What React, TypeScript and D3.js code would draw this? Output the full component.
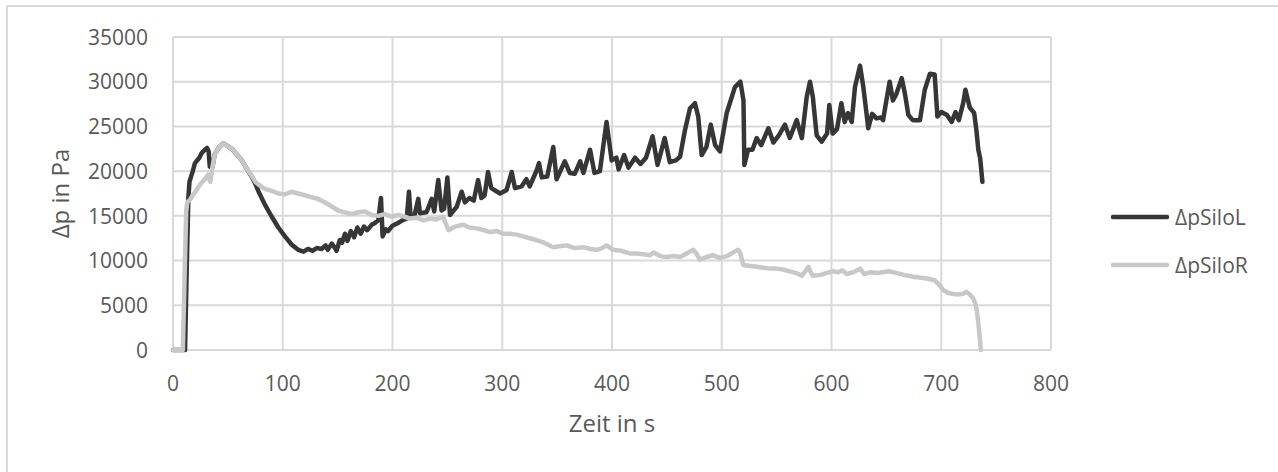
import React from 'react';
import * as d3 from 'd3';

// time in s, Δp in Pa
const siloL: [number, number][] = [
  [0, 0], [11, 0], [12.5, 9000], [14, 17000], [15, 18800], [18, 20000], [20, 20900], [24, 21500],
  [26, 22000], [29, 22400], [31, 22600], [32.5, 22200], [33.5, 20500], [36, 20500], [38, 21900],
  [42, 22700], [45.9, 23100], [50, 22800], [53.5, 22500], [58, 21900], [62.6, 21200], [67, 20300],
  [71.7, 19400], [75, 18600], [78, 17700], [84, 16200],
  [90, 14900], [96, 13700], [102, 12700], [108, 11800], [114, 11200], [119, 11000], [123, 11300],
  [127, 11100], [131, 11400], [135.5, 11300], [139, 11700], [141, 11200], [144.6, 11900], [147, 11500],
  [149, 11100], [152, 12300], [154, 12000], [156.7, 13000], [159, 12200], [162, 13300], [165, 12600],
  [168, 13700], [171, 13000], [174, 13800], [177, 13400], [181, 14000], [184, 14200], [187, 14500],
  [189.5, 17000], [191, 12700], [194, 13500], [196, 13300], [200, 13900], [205, 14200], [209, 14500],
  [213, 14700], [215, 17700], [216.5, 14900], [220, 15000], [223.5, 16900], [225, 15300], [231, 15400],
  [235.7, 16900], [238, 15500], [241.7, 19000], [244.7, 15600], [247, 15800], [250, 19300], [252.4, 15100],
  [258.5, 16000], [263, 17700], [266, 16500], [270, 17000], [274, 16700], [278, 19000], [281, 17000],
  [284, 17300], [287, 19900], [290, 18100], [298, 17500], [304, 17900], [308.6, 19900], [311.6, 18100],
  [317.7, 18300], [322, 19100], [325, 18300], [331.4, 20100], [333.5, 20900], [336, 19300], [341, 19400],
  [346.5, 22700], [349.5, 19100], [357, 21100], [361.5, 19800], [366, 19700], [371, 21100], [374, 19800],
  [380, 22400], [384, 19800], [389, 20000], [395, 25500], [399.7, 21200], [404, 21500], [406, 20200],
  [411, 21800], [415, 20400], [421, 21500], [426, 20800], [431, 21500], [437, 23900], [441.5, 20700],
  [448, 23700], [452.7, 21000], [458, 21200], [462, 21600], [466.5, 24600], [471, 27000], [475.6, 27600],
  [478.6, 26100], [481.7, 21800], [486, 22700], [490, 25200], [494, 22900], [498.4, 22200], [504.5, 26500],
  [512, 29400], [517, 30000], [519.8, 27900], [520.6, 20700], [524, 22400], [528, 22400], [531.8, 23700],
  [536, 22900], [542.5, 24800], [547, 23200], [552, 24000], [557.6, 25200], [562, 23700], [568.3, 25700],
  [573, 23700], [577.4, 28300], [580.4, 30000], [583, 28300], [586.5, 24000], [591, 23300], [596, 24200],
  [598, 27400], [601, 24200], [605, 24700], [609, 27600], [612, 25500], [615, 26500], [618.4, 25500],
  [621.4, 29400], [626, 31800], [629, 29400], [633.5, 24800], [637, 26400], [641, 25900], [645, 26000],
  [647, 25700], [650, 27900], [653, 30000], [656, 27900], [659, 28600], [664, 30400], [667, 28600],
  [670, 26300], [674, 25700], [680.6, 25700], [685, 29100], [689.7, 30900], [694, 30800], [696.5, 26100],
  [700, 26600], [705, 26300], [709.5, 25500], [713, 26600], [716, 25700], [720, 27600], [722, 29100],
  [726, 27100], [730, 26500], [732, 24600], [733.8, 22400], [735.5, 21400], [737.5, 18800],
];

const siloR: [number, number][] = [
  [0, 0], [9, 0], [10.5, 8000], [12, 15500], [13, 16500], [15.5, 16800], [18, 17300], [20.5, 17700],
  [23, 18200], [26, 18700], [29, 19100], [32, 19600], [34, 18800], [36, 20500], [38, 21900], [42, 22700],
  [45.9, 23100], [50, 22800], [53.5, 22500], [58, 21900], [62.6, 21200], [67, 20300], [71.7, 19500],
  [75, 18800], [79, 18400], [84, 18000], [90, 17800], [96, 17500], [102, 17400], [108, 17700], [114, 17500],
  [120, 17300], [126, 17100], [132, 16900], [138.5, 16500], [144, 16100], [150.6, 15600], [156, 15400],
  [163, 15200], [169, 15400], [175, 15500], [181, 15100], [187, 15000], [193, 15200], [199, 14900],
  [205, 15100], [211, 14900], [216, 14700], [222, 14800], [228.6, 14500], [234, 14700], [240, 14600],
  [246, 14900], [248, 14300], [251, 13400], [257, 13800], [264.5, 14000], [270, 13700], [276.7, 13600],
  [283, 13400], [289, 13200], [295, 13300], [301, 13000], [307, 13000], [313, 12900], [319, 12700],
  [325, 12500], [331, 12300], [338, 12000], [346.5, 11500], [352, 11600], [358.7, 11700], [366, 11400],
  [374, 11500], [380, 11300], [386, 11200], [391, 11400], [395, 11700], [401, 11200], [408, 11100],
  [416, 10800], [422, 10800], [428, 10700], [434.6, 10600], [438, 10900], [444, 10500], [449, 10400],
  [456, 10500], [462, 10400], [468, 10800], [474, 11200], [477, 10800], [480, 10100], [486, 10400],
  [492, 10600], [498, 10300], [505, 10500], [510, 10900], [515, 11200], [517, 10800], [519.6, 9500],
  [526, 9400], [532, 9300], [538, 9200], [544, 9100], [550, 9100], [556, 9000], [562, 8800], [568, 8600],
  [573, 8300], [576, 8800], [579, 9300], [581, 8700], [583, 8300], [590, 8400], [595, 8600], [601, 8800],
  [606, 8700], [610, 8900], [614, 8500], [620, 8700], [626, 9100], [630, 8500], [636, 8700], [642, 8600],
  [652, 8800], [660, 8600], [666, 8400], [674.5, 8200], [680, 8100], [686.6, 8000], [694, 7800],
  [698, 7300], [702, 6700], [706, 6400], [709.5, 6300], [715, 6200], [720, 6300], [723, 6500], [726, 6200],
  [729, 5800], [731, 5200], [732.3, 4500], [734, 2800], [735, 1500], [736, 0],
];

const xTicks = [0, 100, 200, 300, 400, 500, 600, 700, 800];
const yTicks = [0, 5000, 10000, 15000, 20000, 25000, 30000, 35000];

const series = [
  { name: 'ΔpSiloL', data: siloL, color: '#363636' },
  { name: 'ΔpSiloR', data: siloR, color: '#c8c8c8' },
];

const width = 1278;
const height = 472;
const margin = { top: 37, right: 227, bottom: 122, left: 173 };
const font = '"Open Sans", "DejaVu Sans", sans-serif';
const textColor = '#595959';
const gridColor = '#d9d9d9';

const App = () => {
  const x = d3.scaleLinear().domain([0, 800]).range([margin.left, width - margin.right]);
  const y = d3.scaleLinear().domain([0, 35000]).range([height - margin.bottom, margin.top]);

  const line = d3.line<[number, number]>()
    .x(d => x(d[0]))
    .y(d => y(d[1]));

  return (
    <svg width={width} height={height} style={{ position: 'absolute', left: 0, top: 0, background: '#fff' }}>
      {/* outer chart border */}
      <rect x={7} y={6} width={width + 10} height={height + 10} fill="#fff" stroke={gridColor} strokeWidth={2} />

      {/* grid */}
      {yTicks.map(t => (
        <line key={'gy' + t} x1={x(0)} x2={x(800)} y1={y(t)} y2={y(t)} stroke={gridColor} strokeWidth={2} />
      ))}
      {xTicks.map(t => (
        <line key={'gx' + t} x1={x(t)} x2={x(t)} y1={y(0)} y2={y(35000)} stroke={gridColor} strokeWidth={2} />
      ))}

      {/* tick labels */}
      {yTicks.map(t => (
        <text key={'ty' + t} x={148} y={y(t)} dy="0.37em" textAnchor="end"
          fontFamily={font} fontSize={21} fill={textColor}>{t}</text>
      ))}
      {xTicks.map(t => (
        <text key={'tx' + t} x={x(t)} y={391} textAnchor="middle"
          fontFamily={font} fontSize={21} fill={textColor}>{t}</text>
      ))}

      {/* axis titles */}
      <text transform={`translate(69, ${(y(0) + y(35000)) / 2}) rotate(-90)`} textAnchor="middle"
        fontFamily={font} fontSize={24} fill={textColor}>Δp in Pa</text>
      <text x={(x(0) + x(800)) / 2} y={432} textAnchor="middle"
        fontFamily={font} fontSize={24} fill={textColor}>Zeit in s</text>

      {/* series */}
      {series.map(s => (
        <path key={s.name} d={line(s.data) || ''} fill="none" stroke={s.color}
          strokeWidth={4.5} strokeLinejoin="round" strokeLinecap="round" />
      ))}

      {/* legend */}
      {series.map((s, i) => (
        <g key={'lg' + s.name} transform={`translate(1113, ${217 + i * 48})`}>
          <line x1={0} x2={54} y1={0} y2={0} stroke={s.color} strokeWidth={4.5} strokeLinecap="round" />
          <text x={62} y={0} dy="0.37em" fontFamily={font} fontSize={21} fill={textColor}>{s.name}</text>
        </g>
      ))}
    </svg>
  );
};

export default App;
